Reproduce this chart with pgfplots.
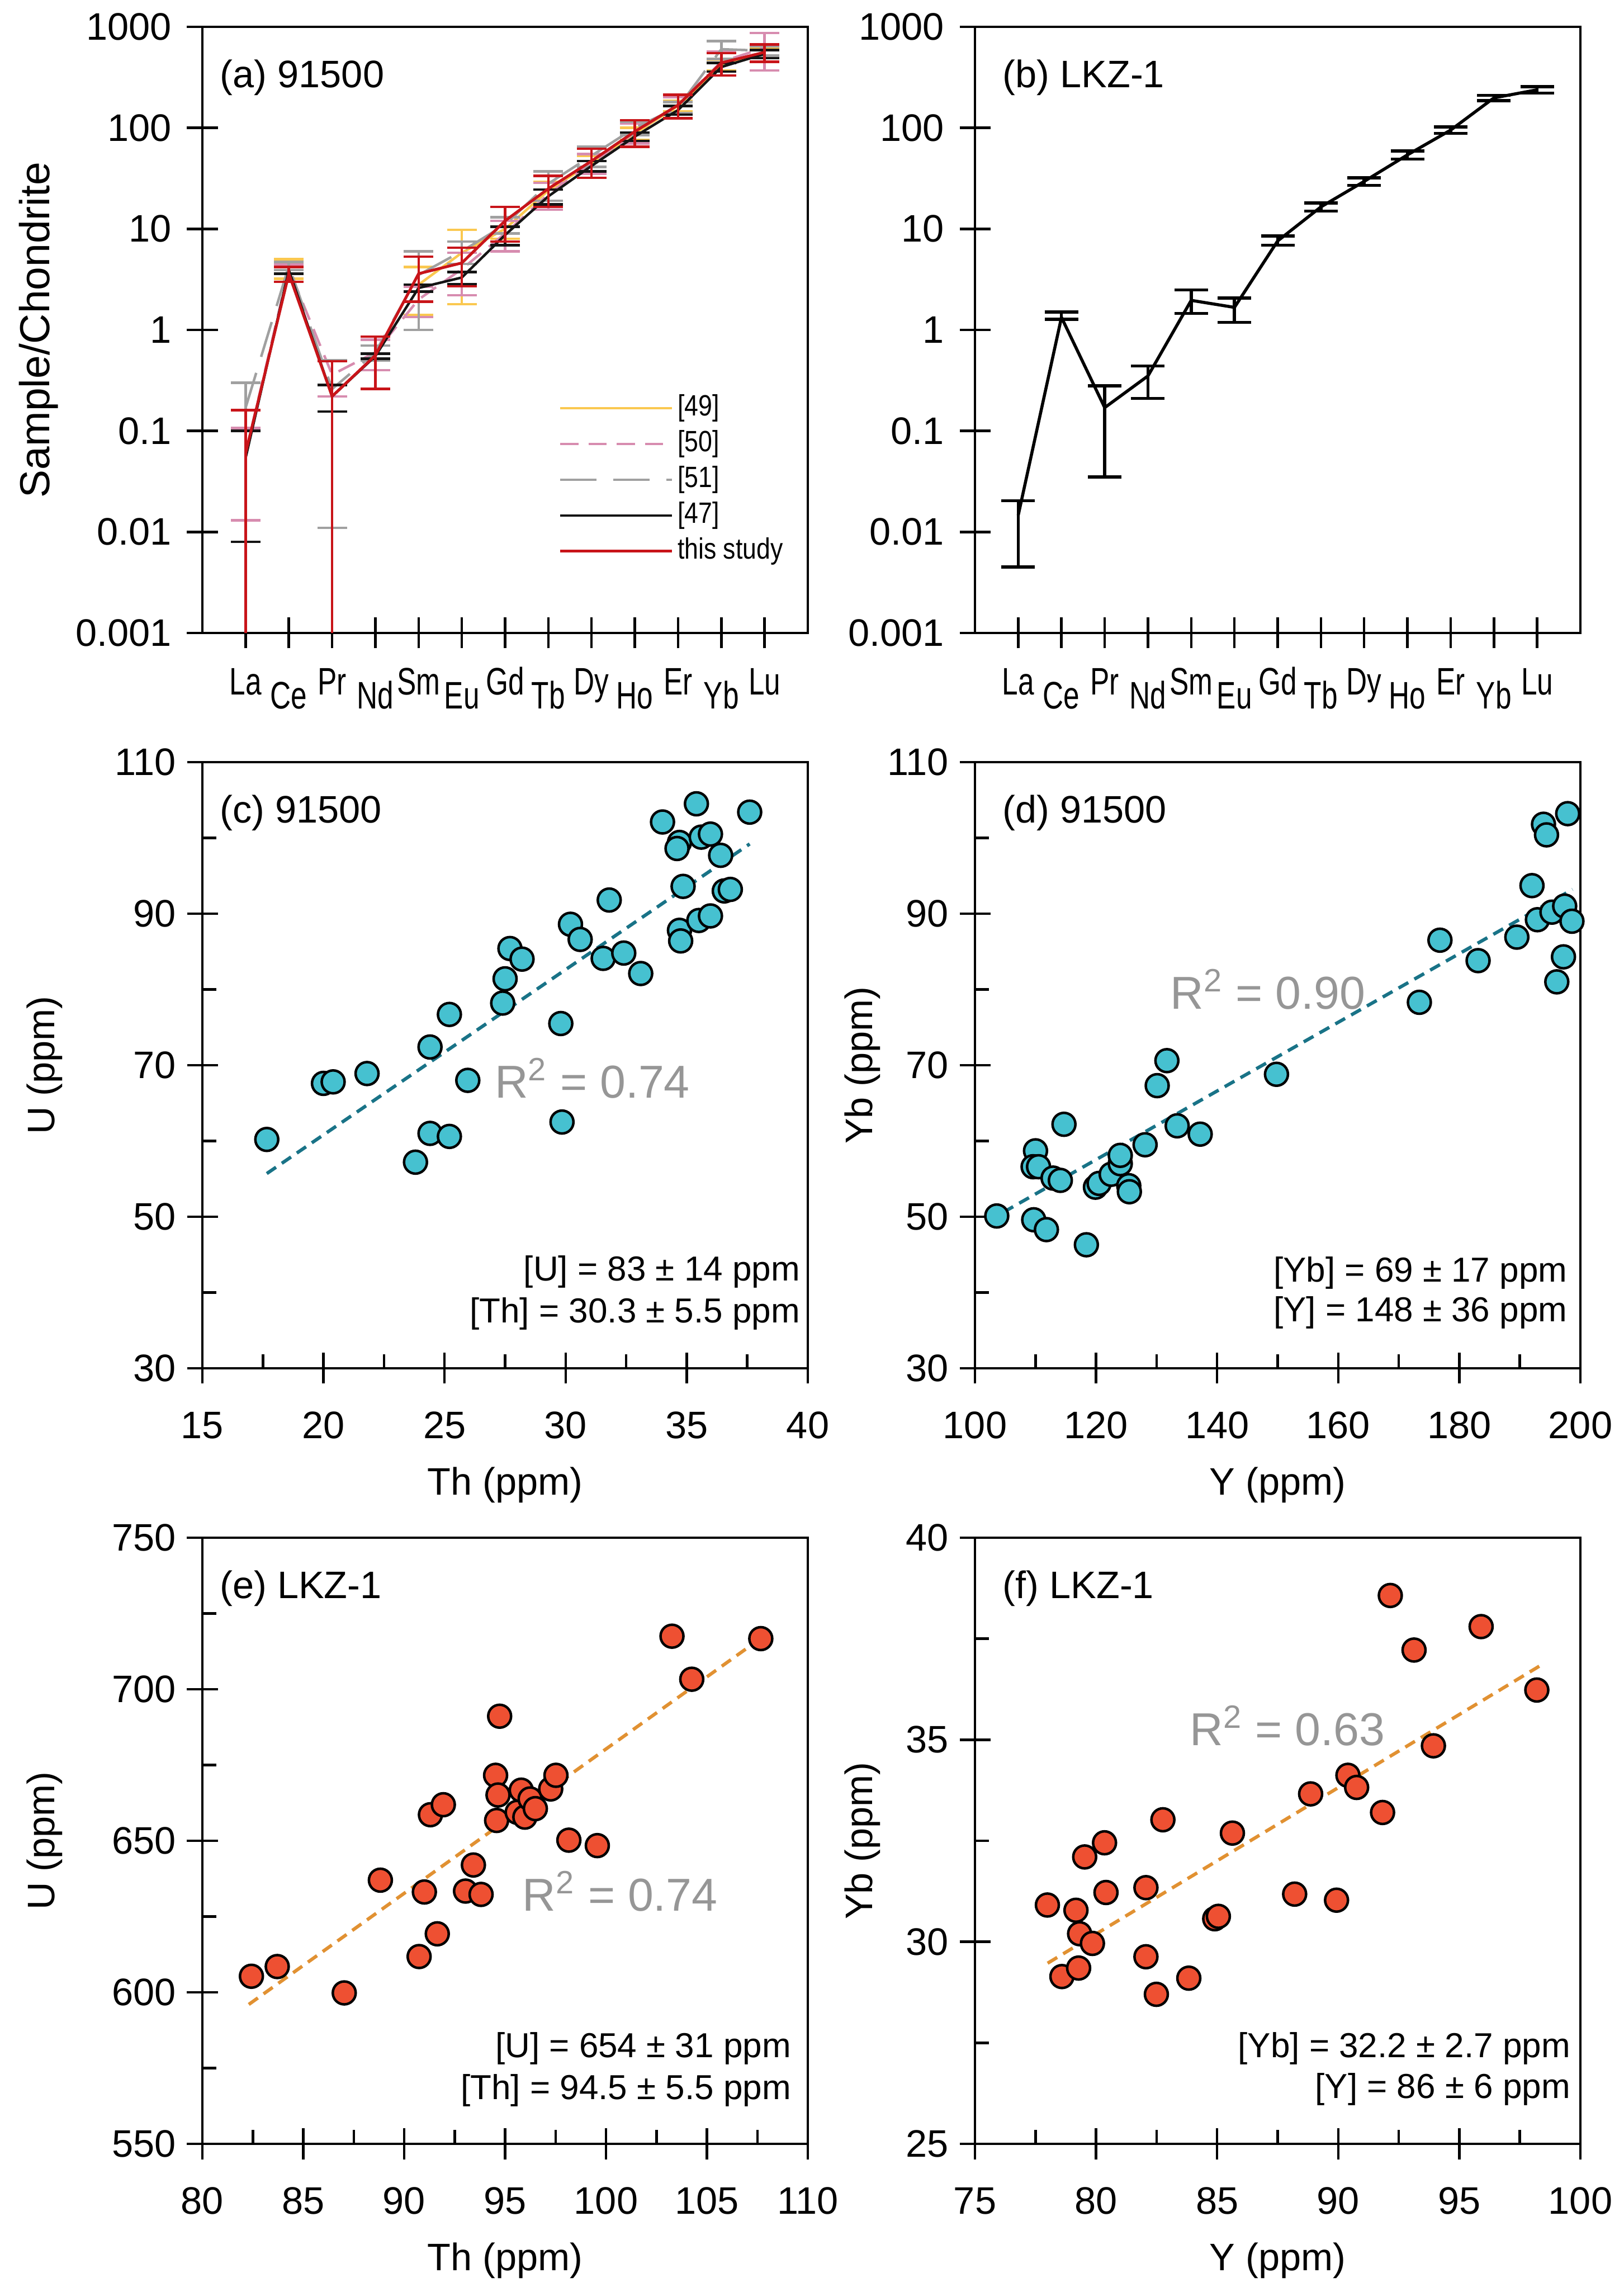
\documentclass[border=0pt]{standalone}
\usepackage{pgfplots}
\usepackage{pgfplotstable}
\pgfplotsset{compat=1.18}
\usepackage{fontspec}
\setmainfont{Liberation Sans}

\definecolor{cyanfill}{RGB}{70,193,208}
\definecolor{tealline}{RGB}{25,115,135}
\definecolor{orangefill}{RGB}{238,80,50}
\definecolor{orangeline}{RGB}{225,145,50}
\definecolor{rtext}{RGB}{150,150,150}
\definecolor{c49}{RGB}{250,200,80}
\definecolor{c50}{RGB}{215,140,175}
\definecolor{c51}{RGB}{160,160,160}
\definecolor{c47}{RGB}{20,20,20}
\definecolor{cthis}{RGB}{200,20,25}

\newcommand{\fs}[1]{\fontsize{#1}{#1}\selectfont}
\newcommand{\cu}[1]{\scalebox{0.75}[1]{#1}}
\newcommand{\cd}[1]{\raisebox{-5pt}{\scalebox{0.75}[1]{#1}}}
\newcommand{\lx}[1]{\scalebox{0.85}[1]{#1}}

\pgfkeys{/pgf/number format/assume math mode=true}
\tikzset{txt/.style={inner sep=0pt}}

% ---------- panel (a) data: x = La..Lu as 1..13 ----------
\pgfplotstableread{
x y ep em
1 nan 0 0
2 4.1 0.9 0.9
3 nan 0 0
4 nan 0 0
5 2.8 1.4 1.4
6 5.8 4 4
7 10 2 2
8 24 5 5
9 45 8 8
10 88 12 12
11 165 20 20
12 420 50 50
13 560 60 60
}\tabA
\pgfplotstableread{
x y ep em
1 0.06 0.047 0.047
2 4.0 0.4 0.4
3 0.36 0.14 0.14
4 0.6 0.2 0.2
5 2.0 0.66 0.66
6 4 1.8 1.8
7 9 3 3
8 22 6.5 6.5
9 45 10 10
10 90 20 20
11 170 30 30
12 450 120 120
13 620 250 250
}\tabB
\pgfplotstableread{
x y ep em
1 0.17 0.13 0.1699
2 4.3 0.4 0.4
3 0.26 0.24 0.249
4 0.6 0.1 0.1
5 3.5 2.5 2.5
6 6 1.5 1.5
7 11 2 2
8 28 9 9
9 53 12 12
10 100 15 15
11 160 20 20
12 600 120 120
13 580 60 60
}\tabC
\pgfplotstableread{
x y ep em
1 0.054 0.046 0.046
2 3.9 0.3 0.3
3 0.22 0.065 0.065
4 0.55 0.03 0.03
5 2.6 0.2 0.2
6 3.3 0.45 0.45
7 8.7 1.8 1.8
8 21 3.5 3.5
9 42 5 5
10 82 8 8
11 150 15 15
12 400 40 40
13 540 50 50
}\tabD
\pgfplotstableread{
x y ep em
1 0.06 0.10 0.0599
2 3.6 0.6 0.6
3 0.22 0.27 0.2199
4 0.56 0.3 0.3
5 3.6 1.7 1.7
6 4.6 1.9 1.9
7 12 4.5 4.5
8 25 8.5 8.5
9 47 15 15
10 92 27 27
11 168 44 44
12 440 110 110
13 560 110 110
}\tabE
% ---------- panel (b) ----------
\pgfplotstableread{
x y ep em
1 0.0146 0.0058 0.0101
2 1.33 0.17 0.06
3 0.17 0.11 0.135
4 0.35 0.09 0.14
5 1.96 0.53 0.5
6 1.67 0.4 0.48
7 7.6 0.9 0.7
8 16.5 1.5 1.5
9 29.5 2.5 2.5
10 54 5 5
11 95 7 7
12 198 12 12
13 238 17 17
}\tabLKZ

\pgfplotsset{
  panel/.style={
    scale only axis, width=216.6pt, height=216.8pt,
    axis line style={line width=0.9pt},
    tick style={line width=0.9pt, black},
    major tick length=11pt, minor tick length=5pt,
    tick align=center,
    xtick pos=bottom, ytick pos=left,
    tick label style={font=\fs{13.7}},
    label style={font=\fs{13.7}},
  },
  scatterpanel/.style={panel,
    yticklabel style={anchor=east, xshift=-0.5pt},
    xticklabel style={anchor=base, yshift=-19.6pt},
    x label style={at={(axis description cs:0.5,-0.1924)}, anchor=center},
    minor x tick num=1, minor y tick num=1,
    minor x tick style={yshift=2.5pt},
    minor y tick style={xshift=2.5pt},
  },
  cyanpts/.style={only marks, mark=*, mark size=4.1pt, mark options={fill=cyanfill, draw=black, line width=0.9pt}},
  orpts/.style={only marks, mark=*, mark size=4.1pt, mark options={fill=orangefill, draw=black, line width=0.9pt}},
}

\begin{document}
\begin{tikzpicture}
\useasboundingbox (0,0) rectangle (580.8pt,818pt);

% ================= (a) =================
\begin{axis}[panel, at={(72.4pt,591.6pt)}, anchor=south west,
  yticklabel style={anchor=east, xshift=-2pt},
  ymode=log, ymin=0.001, ymax=1000,
  ytick={0.001,0.01,0.1,1,10,100,1000},
  yticklabels={0.001,0.01,0.1,1,10,100,1000},
  yminorticks=false,
  xmin=0, xmax=14, xtick={1,...,13},
  xticklabels={\cu{La},\cd{Ce},\cu{Pr},\cd{Nd},\cu{Sm},\cd{Eu},\cu{Gd},\cd{Tb},\cu{Dy},\cd{Ho},\cu{Er},\cd{Yb},\cu{Lu}},
  xticklabel style={anchor=base, yshift=-16.6pt},
  unbounded coords=jump,
  ylabel={Sample/Chondrite},
  y label style={at={(axis description cs:-0.2705,0.5)}, anchor=center, font=\fs{15}},
  legend style={draw=none, fill=none, at={(axis description cs:0.574,0.41)}, anchor=north west,
    font=\fs{10.5}, row sep=0.3pt, nodes={inner sep=1.5pt, text height=7.5pt, text depth=2pt}},
  legend cell align=left,
  legend image code/.code={\draw[#1] (0pt,0pt) -- (40pt,0pt);},
  error bars/y dir=both, error bars/y explicit,
  error bars/error bar style={solid, line width=0.9pt},
  error bars/error mark options={solid, rotate=90, line width=0.9pt, mark size=5.3pt},
]
\addplot[c49, line width=0.9pt, mark=none] table[x=x,y=y,y error plus=ep,y error minus=em]{\tabA};
\addplot[c50, line width=0.9pt, mark=none, dash pattern=on 6.5pt off 3.6pt] table[x=x,y=y,y error plus=ep,y error minus=em]{\tabB};
\addplot[c51, line width=0.9pt, mark=none, dash pattern=on 13pt off 6pt] table[x=x,y=y,y error plus=ep,y error minus=em]{\tabC};
\addplot[c47, line width=0.9pt, mark=none] table[x=x,y=y,y error plus=ep,y error minus=em]{\tabD};
\addplot[cthis, line width=1pt, mark=none] table[x=x,y=y,y error plus=ep,y error minus=em]{\tabE};
\legend{\lx{[49]},\lx{[50]},\lx{[51]},\lx{[47]},\lx{this study}}
\node[txt, anchor=west, font=\fs{13.7}] at (rel axis cs:0.0286,0.916) {(a) 91500};
\end{axis}

% ================= (b) =================
\begin{axis}[panel, at={(348.8pt,591.6pt)}, anchor=south west,
  yticklabel style={anchor=east, xshift=-2pt},
  ymode=log, ymin=0.001, ymax=1000,
  ytick={0.001,0.01,0.1,1,10,100,1000},
  yticklabels={0.001,0.01,0.1,1,10,100,1000},
  yminorticks=false,
  xmin=0, xmax=14, xtick={1,...,13},
  xticklabels={\cu{La},\cd{Ce},\cu{Pr},\cd{Nd},\cu{Sm},\cd{Eu},\cu{Gd},\cd{Tb},\cu{Dy},\cd{Ho},\cu{Er},\cd{Yb},\cu{Lu}},
  xticklabel style={anchor=base, yshift=-16.6pt},
  error bars/y dir=both, error bars/y explicit,
  error bars/error bar style={solid, line width=1.1pt},
  error bars/error mark options={solid, rotate=90, line width=1.1pt, mark size=6pt},
]
\addplot[black, line width=1.1pt, mark=none] table[x=x,y=y,y error plus=ep,y error minus=em]{\tabLKZ};
\node[txt, anchor=west, font=\fs{13.7}] at (rel axis cs:0.045,0.916) {(b) LKZ-1};
\end{axis}

% ================= (c) =================
\begin{axis}[scatterpanel, at={(72.4pt,328.6pt)}, anchor=south west,
  xmin=15, xmax=40, ymin=30, ymax=110,
  xtick={15,20,...,40}, ytick={30,50,...,110},
  xlabel={Th (ppm)}, ylabel={U (ppm)},
  y label style={at={(axis description cs:-0.261,0.5)}, anchor=center},
]
\addplot[tealline, line width=1.2pt, dash pattern=on 4pt off 2.5pt] coordinates {(17.66,55.7) (37.6,99.2)};
\addplot[cyanpts] coordinates {
(17.66,60.2) (20.0,67.6) (20.4,67.8) (21.8,68.9) (23.8,57.2) (24.4,61.0) (25.2,60.6)
(24.4,72.4) (25.2,76.7) (25.96,68.0) (27.4,78.2) (27.5,81.4) (27.7,85.4) (28.2,84.0)
(29.8,75.5) (29.85,62.5) (30.2,88.6) (30.6,86.6) (31.55,84.1) (31.8,91.8) (32.4,84.8)
(33.1,82.1) (34.0,102.1) (34.7,99.4) (34.6,98.6) (34.85,93.6) (34.7,87.8) (34.75,86.4)
(35.4,104.5) (35.6,100.1) (35.98,100.5) (35.5,89.1) (35.98,89.7) (36.4,97.7) (36.55,93.0)
(36.8,93.2) (37.6,103.4)};
\node[txt, anchor=west, font=\fs{13.7}] at (rel axis cs:0.028,0.916) {(c) 91500};
\node[font=\fs{16.5}, text=rtext] at (axis cs:31.1,68.3) {R\textsuperscript{2} = 0.74};
\node[txt, anchor=east, font=\fs{12.4}] at (rel axis cs:0.988,0.159) {[U] = 83 ± 14 ppm};
\node[txt, anchor=east, font=\fs{12.4}] at (rel axis cs:0.988,0.0895) {[Th] = 30.3 ± 5.5 ppm};
\end{axis}

% ================= (d) =================
\begin{axis}[scatterpanel, at={(348.8pt,328.6pt)}, anchor=south west,
  xmin=100, xmax=200, ymin=30, ymax=110,
  xtick={100,120,...,200}, ytick={30,50,...,110},
  xlabel={Y (ppm)}, ylabel={Yb (ppm)},
  y label style={at={(axis description cs:-0.1855,0.5)}, anchor=center},
]
\addplot[tealline, line width=1.2pt, dash pattern=on 4pt off 2.5pt] coordinates {(104.7,50.6) (198.7,93.2)};
\addplot[cyanpts] coordinates {
(103.6,50.1) (109.7,49.6) (111.8,48.3) (110.0,58.7) (109.6,56.6) (110.5,56.6) (112.9,55.1)
(114.1,54.8) (114.7,62.2) (118.4,46.3) (119.9,53.9) (120.5,54.4) (122.5,55.6) (124.0,57.0)
(124.0,58.1) (125.4,54.1) (125.5,53.3) (128.1,59.5) (130.1,67.3) (131.7,70.6) (133.4,62.0)
(137.2,60.9) (149.8,68.8) (173.4,78.3) (176.8,86.5) (183.1,83.8) (189.5,86.9) (192.0,93.7)
(192.9,89.2) (193.9,101.8) (194.4,100.4) (195.3,90.2) (196.1,81.0) (197.2,84.3) (197.4,91.0)
(197.9,103.2) (198.6,89.0)};
\node[txt, anchor=west, font=\fs{13.7}] at (rel axis cs:0.045,0.916) {(d) 91500};
\node[font=\fs{16.5}, text=rtext] at (axis cs:148.4,80) {R\textsuperscript{2} = 0.90};
\node[txt, anchor=east, font=\fs{12.4}] at (rel axis cs:0.979,0.157) {[Yb] = 69 ± 17 ppm};
\node[txt, anchor=east, font=\fs{12.4}] at (rel axis cs:0.979,0.092) {[Y] = 148 ± 36 ppm};
\end{axis}

% ================= (e) =================
\begin{axis}[scatterpanel, at={(72.4pt,51.2pt)}, anchor=south west,
  xmin=80, xmax=110, ymin=550, ymax=750,
  xtick={80,85,...,110}, ytick={550,600,...,750},
  xlabel={Th (ppm)}, ylabel={U (ppm)},
  y label style={at={(axis description cs:-0.261,0.5)}, anchor=center},
]
\addplot[orangeline, line width=1.2pt, dash pattern=on 4pt off 2.5pt] coordinates {(82.3,596) (107.67,716.8)};
\addplot[orpts] coordinates {
(82.43,605.3) (83.71,608.5) (87.03,599.8) (88.82,637.0) (90.74,611.8) (91.0,633.1) (91.3,658.6)
(91.64,619.3) (91.94,661.9) (93.04,633.4) (93.43,642.0) (93.81,632.3) (94.53,671.6) (94.65,665.1)
(94.58,656.7) (94.73,691.1) (95.6,659.4) (95.8,666.7) (95.98,657.8) (96.24,663.8) (96.5,660.6)
(97.26,667.1) (97.52,671.6) (98.16,650.2) (99.57,648.4) (103.27,717.5) (104.25,703.3) (107.67,716.7)};
\node[txt, anchor=west, font=\fs{13.7}] at (rel axis cs:0.028,0.916) {(e) LKZ-1};
\node[font=\fs{16.5}, text=rtext] at (axis cs:100.7,633.4) {R\textsuperscript{2} = 0.74};
\node[txt, anchor=east, font=\fs{12.4}] at (rel axis cs:0.973,0.157) {[U] = 654 ± 31 ppm};
\node[txt, anchor=east, font=\fs{12.4}] at (rel axis cs:0.973,0.088) {[Th] = 94.5 ± 5.5 ppm};
\end{axis}

% ================= (f) =================
\begin{axis}[scatterpanel, at={(348.8pt,51.2pt)}, anchor=south west,
  xmin=75, xmax=100, ymin=25, ymax=40,
  xtick={75,80,...,100}, ytick={25,30,...,40},
  xlabel={Y (ppm)}, ylabel={Yb (ppm)},
  y label style={at={(axis description cs:-0.1855,0.5)}, anchor=center},
]
\addplot[orangeline, line width=1.2pt, dash pattern=on 4pt off 2.5pt] coordinates {(78.0,29.47) (98.3,36.82)};
\addplot[orpts] coordinates {
(77.99,30.91) (78.59,29.14) (79.17,30.78) (79.28,29.35) (79.32,30.20) (79.53,32.10) (79.85,29.96)
(80.35,32.45) (80.41,31.22) (82.06,31.34) (82.06,29.63) (82.49,28.70) (82.76,33.02) (83.83,29.10)
(84.90,30.57) (85.05,30.63) (85.63,32.69) (88.2,31.18) (88.86,33.66) (89.93,31.03) (90.4,34.12)
(90.76,33.82) (91.83,33.20) (92.15,38.57) (93.13,37.22) (93.93,34.85) (95.9,37.80) (98.2,36.23)};
\node[txt, anchor=west, font=\fs{13.7}] at (rel axis cs:0.045,0.916) {(f) LKZ-1};
\node[font=\fs{16.5}, text=rtext] at (axis cs:87.9,35.35) {R\textsuperscript{2} = 0.63};
\node[txt, anchor=east, font=\fs{12.4}] at (rel axis cs:0.984,0.157) {[Yb] = 32.2 ± 2.7 ppm};
\node[txt, anchor=east, font=\fs{12.4}] at (rel axis cs:0.984,0.09) {[Y] = 86 ± 6 ppm};
\end{axis}
\end{tikzpicture}
\end{document}
